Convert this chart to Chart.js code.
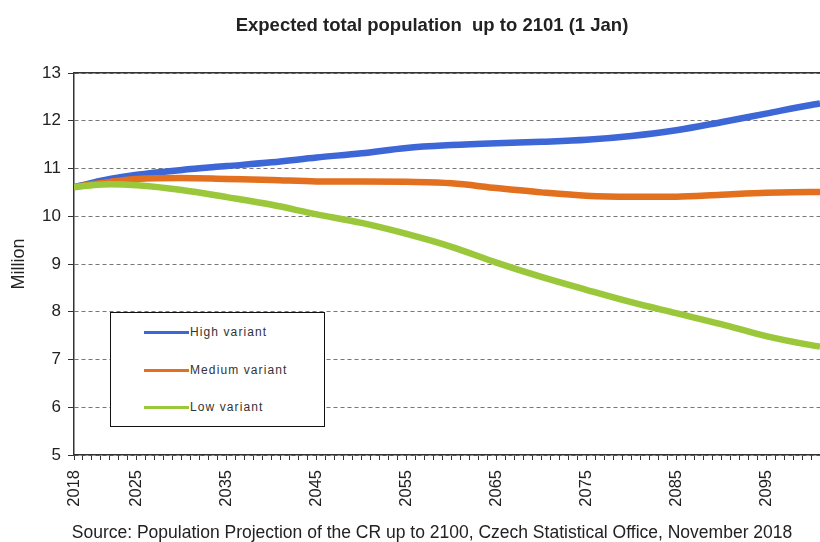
<!DOCTYPE html>
<html>
<head>
<meta charset="utf-8">
<title>Expected total population up to 2101</title>
<script src="https://cdn.jsdelivr.net/npm/chart.js@4/dist/chart.umd.min.js"></script>
<style>
  body { margin: 0; background: #fff; overflow: hidden; }
  #wrap { position: relative; width: 820px; height: 542px; overflow: hidden; }
  #legend {
    position: absolute; left: 110px; top: 312px; width: 213px; height: 113px;
    border: 1.5px solid #111; background: #fff;
    font: 12px "Liberation Sans", Arial, sans-serif; letter-spacing: 1.1px; color: #333;
  }
  #legend .row { position: absolute; left: 33px; height: 14px; line-height: 14px; white-space: nowrap; }
  #legend .swatch { display: inline-block; width: 45px; height: 3px; vertical-align: middle; margin-right: 1px; }
</style>
</head>
<body>
<div id="wrap">
  <canvas id="myChart" width="864" height="542"></canvas>
  <div id="legend"></div>
</div>
<script>
// projection years and values (million, 1 January)
const years = [2018, 2020, 2022, 2025, 2030, 2035, 2040, 2045, 2050, 2055, 2060, 2065, 2070, 2075, 2080, 2085, 2090, 2095, 2100, 2101];
const highVariant = [10.61, 10.70, 10.78, 10.87, 10.97, 11.05, 11.13, 11.23, 11.32, 11.43, 11.49, 11.53, 11.56, 11.60, 11.68, 11.80, 11.97, 12.15, 12.33, 12.36];
const mediumVariant = [10.61, 10.67, 10.72, 10.78, 10.80, 10.78, 10.76, 10.73, 10.73, 10.72, 10.69, 10.59, 10.50, 10.43, 10.41, 10.41, 10.45, 10.49, 10.51, 10.51];
const lowVariant = [10.61, 10.65, 10.67, 10.65, 10.55, 10.40, 10.24, 10.04, 9.86, 9.63, 9.36, 9.03, 8.73, 8.46, 8.20, 7.97, 7.74, 7.49, 7.30, 7.27];
const yearLabels = [2018, 2025, 2035, 2045, 2055, 2065, 2075, 2085, 2095];
const yTicks = [5, 6, 7, 8, 9, 10, 11, 12, 13];

const font = '"Liberation Sans", Arial, sans-serif';
const axisColor = '#333';

const toPoints = (values) => values.map((v, i) => ({ x: years[i], y: v }));

const series = [
  { label: 'High variant', data: highVariant, color: '#3d66d6', order: 3 },
  { label: 'Medium variant', data: mediumVariant, color: '#e2701e', order: 2 },
  { label: 'Low variant', data: lowVariant, color: '#9ac83a', order: 1 },
];

const chart = new Chart(document.getElementById('myChart').getContext('2d'), {
  type: 'line',
  data: {
    datasets: series.map((s) => ({
      label: s.label,
      data: toPoints(s.data),
      borderColor: s.color,
      backgroundColor: s.color,
      borderWidth: 6.5,
      pointRadius: 0,
      cubicInterpolationMode: 'monotone',
      order: s.order,
    })),
  },
  options: {
    responsive: false,
    animation: false,
    layout: { padding: 0 },
    plugins: {
      legend: { display: false },
      tooltip: { enabled: false },
      title: {
        display: true,
        text: 'Expected total population  up to 2101 (1 Jan)',
        color: '#222',
        font: { family: font, size: 18.5, weight: 'bold' },
        padding: { top: 15, bottom: 0 },
      },
      subtitle: {
        display: true,
        position: 'bottom',
        text: 'Source: Population Projection of the CR up to 2100, Czech Statistical Office, November 2018',
        color: '#222',
        font: { family: font, size: 17.5, lineHeight: 1 },
        padding: { top: 0, bottom: 0 },
      },
    },
    scales: {
      x: {
        type: 'linear',
        min: 2018,
        max: 2101,
        afterFit: (s) => { s.height = 69.5; },
        ticks: {
          stepSize: 1,
          autoSkip: false,
          minRotation: 90,
          maxRotation: 90,
          padding: 10,
          color: '#222',
          font: { family: font, size: 16.5 },
          callback: (v) => (yearLabels.includes(v) ? String(v) : ''),
        },
        grid: { drawOnChartArea: false, drawTicks: true, tickLength: 5, tickColor: axisColor, tickWidth: 1 },
        border: { display: true, color: axisColor, width: 1.5 },
      },
      xTop: {
        type: 'linear',
        position: 'top',
        min: 2018,
        max: 2101,
        afterFit: (s) => { s.height = 73 - 15 - 22.2; },
        ticks: { display: false },
        grid: { display: false },
        border: { display: true, color: axisColor, width: 1.5 },
      },
      y: {
        min: 5,
        max: 13,
        afterFit: (s) => { s.width = 74; },
        afterBuildTicks: (s) => { s.ticks = yTicks.map((v) => ({ value: v })); },
        title: {
          display: true,
          text: 'Million',
          color: '#222',
          font: { family: font, size: 18 },
          padding: { top: 8, bottom: 0 },
        },
        ticks: {
          padding: 7,
          color: '#222',
          font: { family: font, size: 17 },
        },
        grid: {
          color: '#777',
          lineWidth: 1,
          tickLength: 6,
          tickColor: axisColor,
          tickBorderDash: [],
        },
        border: { display: true, color: axisColor, width: 1.5, dash: [4, 3] },
      },
      // blank strip on the right, the plot runs out past the visible frame
      yRight: {
        type: 'linear',
        position: 'right',
        afterFit: (s) => { s.width = 44; },
        ticks: { display: false },
        grid: { display: false },
        border: { display: false },
      },
    },
  },
});

// legend box inside the plot
const populateLegend = (datasets) => {
  const legendEl = document.querySelector('#legend');
  legendEl.innerHTML = '';
  datasets.forEach((ds, i) => {
    const row = document.createElement('div');
    row.className = 'row';
    row.style.top = (12 + i * 37.5) + 'px';
    row.innerHTML = `<span class="swatch" style="background:${ds.borderColor}"></span>${ds.label}`;
    legendEl.appendChild(row);
  });
};

populateLegend(chart.data.datasets);
</script>
</body>
</html>
